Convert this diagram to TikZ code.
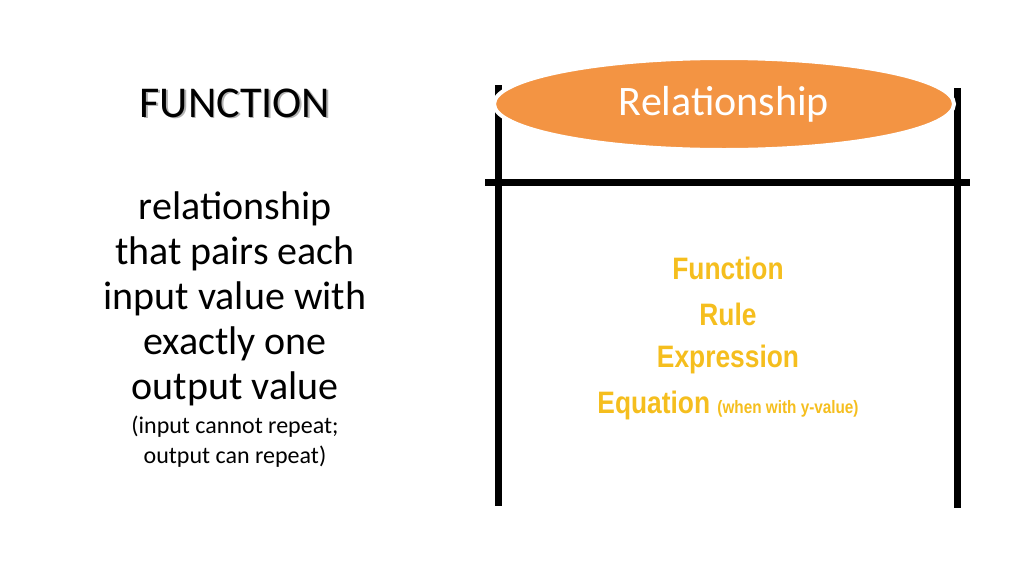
\documentclass[tikz,border=0pt]{standalone}
\usepackage{fontspec}
\setmainfont{Carlito}
\newfontfamily\arialfont{Liberation Sans}
\usetikzlibrary{shapes.geometric}
\definecolor{relorange}{HTML}{F39443}
\definecolor{ruleyellow}{HTML}{F5BE1E}
\tikzset{
  bar/.style={line width=7pt, black},
  bodytext/.style={align=center, font=\fontsize{40}{45}\selectfont},
  termtext/.style={ruleyellow, font=\arialfont\bfseries\fontsize{31}{36}\selectfont, xscale=0.85}
}
\begin{document}
\begin{tikzpicture}[x=1pt, y=-1pt]

    \useasboundingbox (0, 0) rectangle (1024, 576);

    % left column
    \node[gray!60, font=\fontsize{44}{50}\selectfont] at (236.5, 104.5) {FUNCTION};
    \node (title) [font=\fontsize{44}{50}\selectfont] at (235, 103) {FUNCTION};

    \node (def) [bodytext, anchor=north] at (235, 188)
      {relationship\\that pairs each\\input value with\\exactly one\\output value};
    \node (note) [align=center, font=\fontsize{24}{30}\selectfont, anchor=north]
      at (235, 412) {(input cannot repeat;\\output can repeat)};

    % T-chart
    \coordinate (LT) at (498, 85);
    \coordinate (LB) at (498, 506);
    \coordinate (RT) at (957, 88);
    \coordinate (RB) at (957, 508);
    \coordinate (HL) at (485, 182);
    \coordinate (HR) at (970, 182);

    \draw[bar] (LT) -- (LB);
    \draw[bar] (RT) -- (RB);
    \draw[bar] (HL) -- (HR);

    \node (rel) [ellipse, fill=relorange, draw=white, line width=4pt,
      minimum width=460pt, minimum height=92pt, text=white,
      font=\fontsize{42}{48}\selectfont] at (724, 104) {Relationship};

    \node (fn) [termtext] at (728, 268) {Function};
    \node (rule) [termtext] at (728, 314) {Rule};
    \node (expr) [termtext] at (728, 359) {Expression};
    \node (eq) [termtext] at (728, 405)
      {Equation \fontsize{18}{20}\selectfont(when with y-value)};

  \end{tikzpicture}
\end{document}
